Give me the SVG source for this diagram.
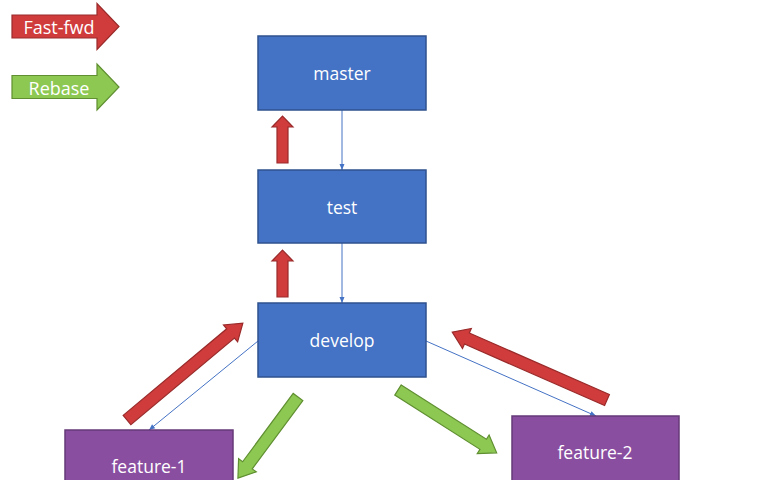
<svg xmlns="http://www.w3.org/2000/svg" width="783" height="480" viewBox="0 0 783 480">
<style>
.blue{fill:#4472C4;stroke:#2F528F;stroke-width:1.5}
.purple{fill:#8A4EA0;stroke:#663A78;stroke-width:1.5}
.lbl{font-family:"Open Sans","Liberation Sans",sans-serif;font-size:17.5px;fill:#fff;text-anchor:middle;dominant-baseline:central}
.leg{font-size:18px}
.red{fill:#D03C3C;stroke:#9A2A2A;stroke-width:1.2}
.green{fill:#8DC853;stroke:#5F8F30;stroke-width:1.2}
.conn{stroke:#4472C4;stroke-width:1;fill:none;marker-end:url(#ah)}
</style>
<defs>
<marker id="ah" markerWidth="8" markerHeight="8" refX="7" refY="4" orient="auto" markerUnits="userSpaceOnUse">
<path d="M1,1.5 L7,4 L1,6.5 Z" fill="#4472C4"/>
</marker>
</defs>
<rect width="783" height="480" fill="#fff"/>
<g id="legend">
<path class="red" transform="translate(12,26.5)" d="M0,-11.5 H85 V-23 L107,0 L85,23 V11.5 H0 Z"/>
<text class="lbl leg" x="59" y="27">Fast-fwd</text>
<path class="green" transform="translate(12,87)" d="M0,-11.5 H85 V-23 L107,0 L85,23 V11.5 H0 Z"/>
<text class="lbl leg" x="59" y="88">Rebase</text>
</g>
<g id="connectors">
<line class="conn" x1="342" y1="110" x2="342" y2="170"/>
<line class="conn" x1="342" y1="243" x2="342" y2="303"/>
<line class="conn" x1="258" y1="341" x2="149" y2="430"/>
<line class="conn" x1="426" y1="341" x2="596" y2="416"/>
</g>
<g id="block-arrows">
<path class="red" transform="translate(282.5,163) rotate(-90)" d="M0,-5.5 H36 V-10.5 L47,0 L36,10.5 V5.5 H0 Z"/>
<path class="red" transform="translate(282.5,297) rotate(-90)" d="M0,-5.5 H36 V-10.5 L47,0 L36,10.5 V5.5 H0 Z"/>
<path class="red" transform="translate(127,420) rotate(-39.9)" d="M0,-6 H135 V-11 L151,0 L135,11 V6 H0 Z"/>
<path class="red" transform="translate(607,400) rotate(-156.3)" d="M0,-6 H153 V-11 L169,0 L153,11 V6 H0 Z"/>
<path class="green" transform="translate(298,397) rotate(126.5)" d="M0,-6 H85 V-11 L101,0 L85,11 V6 H0 Z"/>
<path class="green" transform="translate(398,390) rotate(32.5)" d="M0,-6 H101 V-11 L117,0 L101,11 V6 H0 Z"/>
</g>
<g id="master">
<rect class="blue" x="258" y="36" width="168" height="74"/>
<text class="lbl" x="342" y="73">master</text>
</g>
<g id="test">
<rect class="blue" x="258" y="170" width="168" height="73"/>
<text class="lbl" x="342" y="207">test</text>
</g>
<g id="develop">
<rect class="blue" x="258" y="303" width="168" height="74"/>
<text class="lbl" x="342" y="340">develop</text>
</g>
<g id="feature-1">
<rect class="purple" x="65" y="430" width="168" height="60"/>
<text class="lbl" x="149" y="466">feature-1</text>
</g>
<g id="feature-2">
<rect class="purple" x="512" y="416" width="167" height="70"/>
<text class="lbl" x="595" y="452">feature-2</text>
</g>
</svg>
